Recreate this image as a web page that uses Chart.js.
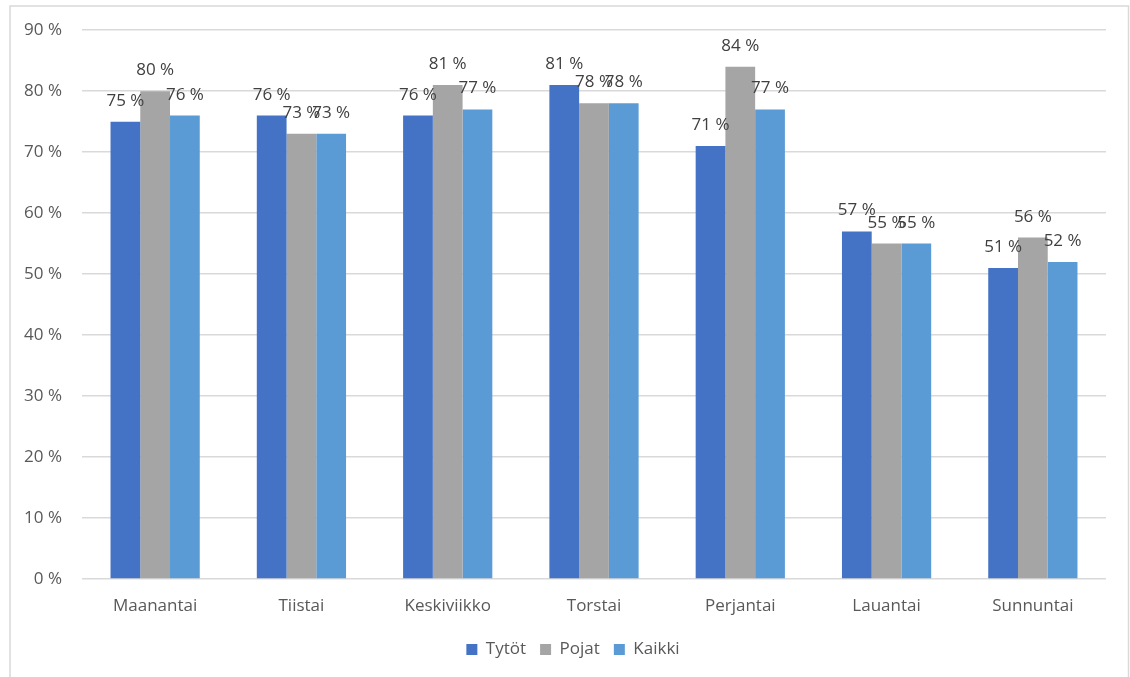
<!DOCTYPE html>
<html>
<head>
<meta charset="utf-8">
<script src="https://cdn.jsdelivr.net/npm/chart.js@4/dist/chart.umd.min.js"></script>
<style>
  html, body { margin: 0; padding: 0; background: #fff; }
  #wrap { width: 1130px; height: 677px; position: relative; }
</style>
</head>
<body>
<div id="wrap"><canvas id="c" width="1130" height="677"></canvas></div>
<script>
// Weekdays and shares per group (%)
const days = ['Maanantai', 'Tiistai', 'Keskiviikko', 'Torstai', 'Perjantai', 'Lauantai', 'Sunnuntai'];
const tytot = [75, 76, 76, 81, 71, 57, 51];
const pojat = [80, 73, 81, 78, 84, 55, 56];
const kaikki = [76, 73, 77, 78, 77, 55, 52];
const seriesNames = ['Tytöt', 'Pojat', 'Kaikki'];
const yMin = 0, yMax = 90, yStep = 10;

const FONT = '"Open Sans", sans-serif';
const FONT_SIZE = 17;
const TEXT = '#595959';
const LABEL = '#404040';
const GRID = '#D9D9D9';

// Light frame around the whole chart
const framePlugin = {
  id: 'frame',
  beforeDraw(chart) {
    const ctx = chart.ctx;
    ctx.save();
    ctx.fillStyle = '#ffffff';
    ctx.fillRect(0, 0, chart.width, chart.height);
    ctx.strokeStyle = GRID;
    ctx.lineWidth = 1.5;
    ctx.beginPath();
    ctx.moveTo(10, chart.height);
    ctx.lineTo(10, 6);
    ctx.lineTo(1128.5, 6);
    ctx.lineTo(1128.5, chart.height);
    ctx.stroke();
    ctx.restore();
  }
};

// Centre the legend on the framed area rather than on the plot
const legendShift = {
  id: 'legendShift',
  afterLayout(chart) {
    const lg = chart.legend;
    if (lg) { lg.left += 20; lg.right += 20; }
  }
};

// Value labels above each bar
const valueLabels = {
  id: 'valueLabels',
  afterDatasetsDraw(chart) {
    const ctx = chart.ctx;
    ctx.save();
    ctx.font = FONT_SIZE + 'px ' + FONT;
    ctx.fillStyle = LABEL;
    ctx.textAlign = 'center';
    ctx.textBaseline = 'alphabetic';
    chart.data.datasets.forEach((ds, i) => {
      const meta = chart.getDatasetMeta(i);
      meta.data.forEach((bar, j) => {
        ctx.fillText(ds.data[j] + ' %', bar.x, bar.y - 16);
      });
    });
    ctx.restore();
  }
};

new Chart(document.getElementById('c'), {
  type: 'bar',
  data: {
    labels: days,
    datasets: [
      { label: seriesNames[0], data: tytot, backgroundColor: '#4472C4' },
      { label: seriesNames[1], data: pojat, backgroundColor: '#A5A5A5' },
      { label: seriesNames[2], data: kaikki, backgroundColor: '#5B9BD5' }
    ]
  },
  options: {
    responsive: false,
    animation: false,
    devicePixelRatio: 1,
    layout: { padding: { top: 30, right: 24, bottom: 9, left: 0 } },
    datasets: { bar: { categoryPercentage: 0.61, barPercentage: 1.0 } },
    plugins: {
      legend: {
        position: 'bottom',
        labels: {
          boxWidth: 11, boxHeight: 11, padding: 14,
          color: TEXT, font: { family: FONT, size: FONT_SIZE }
        }
      },
      tooltip: { enabled: false }
    },
    scales: {
      x: {
        grid: { display: false },
        border: { display: false },
        ticks: { color: TEXT, font: { family: FONT, size: FONT_SIZE }, padding: 9 },
        afterFit(s) { s.height = 48; }
      },
      y: {
        min: yMin, max: yMax,
        grid: { color: GRID, lineWidth: 1.5, drawTicks: false },
        border: { display: false },
        ticks: {
          stepSize: yStep, padding: 20, color: TEXT,
          font: { family: FONT, size: FONT_SIZE },
          callback: v => v + ' %'
        },
        afterFit(s) { s.width = 82; }
      }
    }
  },
  plugins: [framePlugin, legendShift, valueLabels]
});
</script>
</body>
</html>
